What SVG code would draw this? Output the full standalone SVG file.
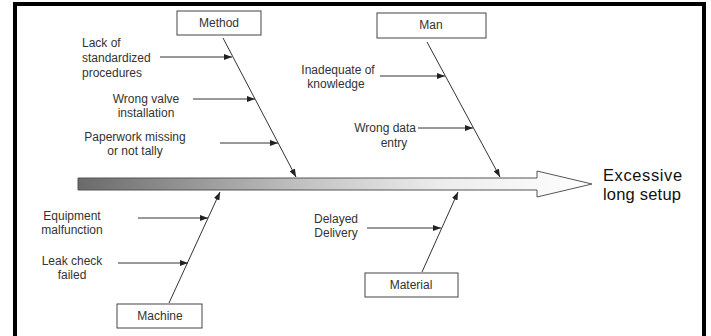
<svg xmlns="http://www.w3.org/2000/svg" width="711" height="336" viewBox="0 0 711 336">
<defs>
<style>
.box{fill:#fff;stroke:#444;stroke-width:1}
.lbl{font-family:"Liberation Sans",Arial,sans-serif;font-size:12px;fill:#333}
.mid{text-anchor:middle}
.ln{stroke:#333;stroke-width:1;fill:none;marker-end:url(#ah)}
.big{font-family:"Liberation Sans",Arial,sans-serif;font-size:16.5px;fill:#111}
</style>
<marker id="ah" viewBox="0 0 8 6" refX="8" refY="3" markerWidth="8" markerHeight="6" markerUnits="userSpaceOnUse" orient="auto">
<path d="M0,0 L8,3 L0,6 Z" fill="#222"/>
</marker>
<linearGradient id="g" x1="78" y1="0" x2="592" y2="0" gradientUnits="userSpaceOnUse">
<stop offset="0" stop-color="#6a6a6a"/>
<stop offset="0.45" stop-color="#c4c4c4"/>
<stop offset="0.7" stop-color="#ececec"/>
<stop offset="1" stop-color="#ffffff"/>
</linearGradient>
</defs>
<rect x="0" y="0" width="711" height="336" fill="#fff"/>
<rect x="15" y="4" width="689" height="400" fill="none" stroke="#000" stroke-width="4"/>

<g id="effect">
<polygon points="78,178 537,178 537,171 592,184 537,197 537,190 78,190" fill="url(#g)" stroke="#555" stroke-width="1"/>
<text class="big" x="603" y="181" letter-spacing="0.6">Excessive</text>
<text class="big" x="603" y="200" letter-spacing="0.2">long setup</text>
</g>

<g id="method">
<rect class="box" x="177" y="11" width="84" height="24"/>
<text class="lbl mid" x="219" y="27">Method</text>
</g>
<g id="man">
<rect class="box" x="377" y="13" width="109" height="25"/>
<text class="lbl mid" x="431" y="29">Man</text>
</g>
<g id="machine">
<rect class="box" x="117" y="304" width="85" height="24"/>
<text class="lbl mid" x="160" y="320">Machine</text>
</g>
<g id="material">
<rect class="box" x="365" y="273" width="93" height="24"/>
<text class="lbl mid" x="411" y="289">Material</text>
</g>

<g id="causes">
<text class="lbl" x="82" y="47">Lack of</text>
<text class="lbl" x="82" y="62">standardized</text>
<text class="lbl" x="82" y="77">procedures</text>
<text class="lbl mid" x="146" y="103">Wrong valve</text>
<text class="lbl mid" x="146" y="117">installation</text>
<text class="lbl mid" x="135" y="141">Paperwork missing</text>
<text class="lbl mid" x="135" y="155">or not tally</text>
<text class="lbl mid" x="338" y="74">Inadequate of</text>
<text class="lbl mid" x="336" y="88">knowledge</text>
<text class="lbl" x="416" y="132" text-anchor="end">Wrong data</text>
<text class="lbl mid" x="394" y="147">entry</text>
<text class="lbl mid" x="72" y="220">Equipment</text>
<text class="lbl mid" x="72" y="234">malfunction</text>
<text class="lbl mid" x="72" y="265">Leak check</text>
<text class="lbl mid" x="72" y="279">failed</text>
<text class="lbl mid" x="336" y="223">Delayed</text>
<text class="lbl mid" x="336" y="237">Delivery</text>
</g>

<g id="connectors">
<line class="ln" x1="223" y1="38" x2="296" y2="177"/>
<line class="ln" x1="427" y1="42" x2="500" y2="177"/>
<line class="ln" x1="169" y1="303" x2="220" y2="192"/>
<line class="ln" x1="422" y1="272" x2="458" y2="192"/>
<line class="ln" x1="160" y1="57" x2="232" y2="57"/>
<line class="ln" x1="193" y1="99" x2="255" y2="99"/>
<line class="ln" x1="220" y1="143" x2="278" y2="143"/>
<line class="ln" x1="380" y1="76" x2="445" y2="76"/>
<line class="ln" x1="418" y1="128" x2="473" y2="128"/>
<line class="ln" x1="138" y1="218" x2="208" y2="218"/>
<line class="ln" x1="118" y1="263" x2="188" y2="263"/>
<line class="ln" x1="367" y1="228" x2="441" y2="228"/>
</g>
</svg>
